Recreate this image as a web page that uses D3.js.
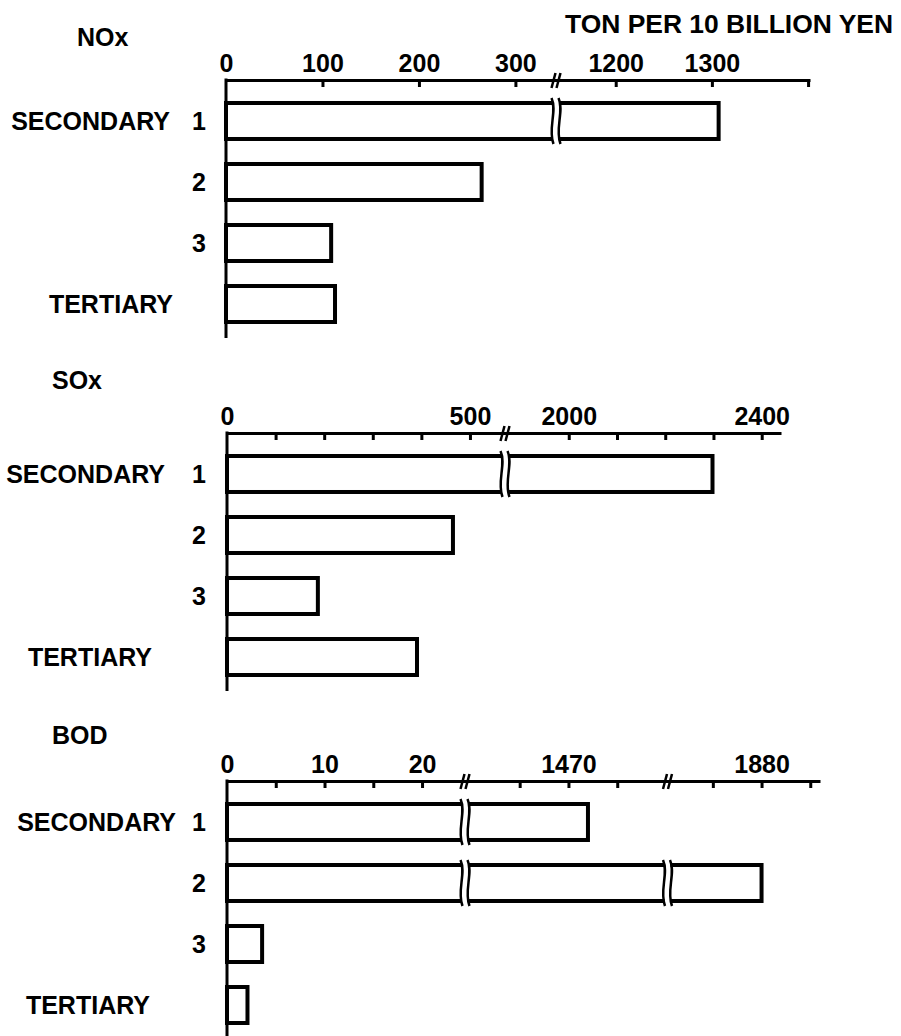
<!DOCTYPE html>
<html>
<head>
<meta charset="utf-8">
<script src="https://cdn.jsdelivr.net/npm/d3@7"></script>
<style>
  body { margin: 0; background: #fff; }
  text { font-family: "Liberation Sans", Arial, sans-serif; font-weight: bold; fill: #000; }
</style>
</head>
<body>
<div id="chart"></div>
<script>
// Data
var categories = ["1", "2", "3", "TERTIARY"];

var noxValues = [1307, 265, 109, 113];
var soxValues = [2298, 465, 187, 391];
var bodValues = [1472, 1880, 3.6, 2.1];

// scale breaks (value where axis is cut, value where it resumes)
var noxBreaks = [[340, 1140]];
var soxBreaks = [[568, 1872]];
var bodBreaks = [[24.2, 1459.6], [1480, 1870.5]];

// tick marks and labelled values
var noxTicks = [100, 200, 300, 1200, 1300, 1400];
var noxTickLabels = [0, 100, 200, 300, 1200, 1300];
var soxTicks = [100, 200, 300, 400, 500, 2000, 2100, 2200, 2300, 2400];
var soxTickLabels = [0, 500, 2000, 2400];
var bodTicks = [5, 10, 15, 20, 1465, 1470, 1475, 1875, 1880, 1885];
var bodTickLabels = [0, 10, 20, 1470, 1880];

var w = 901, h = 1036;

var svg = d3.select("#chart").append("svg")
    .attr("width", w)
    .attr("height", h);

// unit label at the top
svg.append("text")
    .attr("x", 565)
    .attr("y", 33)
    .attr("textLength", 328)
    .attr("lengthAdjust", "spacingAndGlyphs")
    .style("font-size", "25px")
    .text("TON PER 10 BILLION YEN");

// layout of each panel (positions only)
var panels = [
  { title: "NOx", values: noxValues, breaks: noxBreaks, ticks: noxTicks, labels: noxTickLabels,
    domain: [0, 340, 1140, 1402], range: [226, 554, 558, 810],
    axisY: 80, titleX: 77, titleY: 46, secEnd: 170, terEnd: 173 },
  { title: "SOx", values: soxValues, breaks: soxBreaks, ticks: soxTicks, labels: soxTickLabels,
    domain: [0, 568, 1872, 2440], range: [227, 503, 507, 781],
    axisY: 433, titleX: 52, titleY: 389, secEnd: 165, terEnd: 152 },
  { title: "BOD", values: bodValues, breaks: bodBreaks, ticks: bodTicks, labels: bodTickLabels,
    domain: [0, 24.2, 1459.6, 1480, 1870.5, 1886], range: [227, 463, 467, 666, 669, 820],
    axisY: 781, titleX: 52, titleY: 744, secEnd: 176, terEnd: 150 }
];

panels.forEach(function(p) {
  var g = svg.append("g");

  var x = d3.scaleLinear().domain(p.domain).range(p.range);
  var y = d3.scaleBand()
      .domain(categories)
      .range([p.axisY + 23, p.axisY + 23 + 219])
      .paddingInner(0.41)
      .paddingOuter(0);

  // panel title
  g.append("text")
      .attr("x", p.titleX)
      .attr("y", p.titleY)
      .style("font-size", "25px")
      .text(p.title);

  // ticks pointing down into the plot
  var tickAxis = g.append("g")
      .attr("transform", "translate(0," + p.axisY + ")")
      .call(d3.axisBottom(x).tickValues(p.ticks).tickSize(7).tickSizeOuter(0).tickFormat(""));
  tickAxis.select(".domain").attr("stroke", "#000").attr("stroke-width", 3);
  tickAxis.selectAll(".tick line").attr("stroke", "#000").attr("stroke-width", 3);

  // tick labels above the axis
  var labelAxis = g.append("g")
      .attr("transform", "translate(0," + p.axisY + ")")
      .call(d3.axisTop(x).tickValues(p.labels).tickSize(0).tickPadding(8).tickFormat(d3.format("d")));
  labelAxis.select(".domain").remove();
  labelAxis.attr("font-size", null).attr("font-family", null);
  labelAxis.selectAll("text")
      .style("font-size", "25px");

  // break marks on the axis
  p.breaks.forEach(function(b) {
    var bx = (x(b[0]) + x(b[1])) / 2;
    [-2.5, 2.5].forEach(function(off) {
      g.append("line")
          .attr("x1", bx + off - 2).attr("y1", p.axisY + 8)
          .attr("x2", bx + off + 2).attr("y2", p.axisY - 7)
          .attr("stroke", "#000").attr("stroke-width", 2.5);
    });
  });

  // vertical axis
  g.append("line")
      .attr("x1", x(0)).attr("x2", x(0))
      .attr("y1", p.axisY - 1.5).attr("y2", p.axisY + 258)
      .attr("stroke", "#000").attr("stroke-width", 3);

  var rows = p.values.map(function(v, i) { return { cat: categories[i], value: v }; });

  // bars
  g.selectAll(".bar")
    .data(rows)
    .enter()
    .append("rect")
      .attr("class", "bar")
      .attr("x", x(0))
      .attr("y", function(d) { return y(d.cat); })
      .attr("width", function(d) { return x(d.value) - x(0); })
      .attr("height", y.bandwidth())
      .attr("fill", "#fff")
      .attr("stroke", "#000")
      .attr("stroke-width", 4);

  // wavy cuts where a bar crosses a break
  rows.forEach(function(d) {
    p.breaks.forEach(function(b) {
      if (d.value <= b[1]) return;
      var bx = (x(b[0]) + x(b[1])) / 2;
      var y0 = y(d.cat), y1 = y0 + y.bandwidth();
      g.append("rect")
          .attr("x", bx - 3).attr("y", y0 - 4)
          .attr("width", 6).attr("height", y1 - y0 + 8)
          .attr("fill", "#fff");
      [-3.5, 3.5].forEach(function(off) {
        var cx = bx + off;
        g.append("path")
            .attr("d", "M" + (cx - 1) + "," + (y0 - 5) +
                       " C" + (cx + 5) + "," + (y0 + 8) + " " + (cx - 5) + "," + (y1 - 10) +
                       " " + (cx + 1) + "," + (y1 + 5))
            .attr("fill", "none")
            .attr("stroke", "#000")
            .attr("stroke-width", 2.5);
      });
    });
  });

  // row labels
  rows.forEach(function(d, i) {
    var cy = y(d.cat) + y.bandwidth() / 2 + 9;
    if (d.cat === "TERTIARY") {
      g.append("text")
          .attr("x", p.terEnd).attr("y", cy)
          .attr("text-anchor", "end")
          .style("font-size", "25px")
          .text(d.cat);
    } else {
      g.append("text")
          .attr("x", 199).attr("y", cy)
          .attr("text-anchor", "middle")
          .style("font-size", "25px")
          .text(d.cat);
      if (i === 0) {
        g.append("text")
            .attr("x", p.secEnd).attr("y", cy)
            .attr("text-anchor", "end")
            .style("font-size", "25px")
            .text("SECONDARY");
      }
    }
  });
});
</script>
</body>
</html>
